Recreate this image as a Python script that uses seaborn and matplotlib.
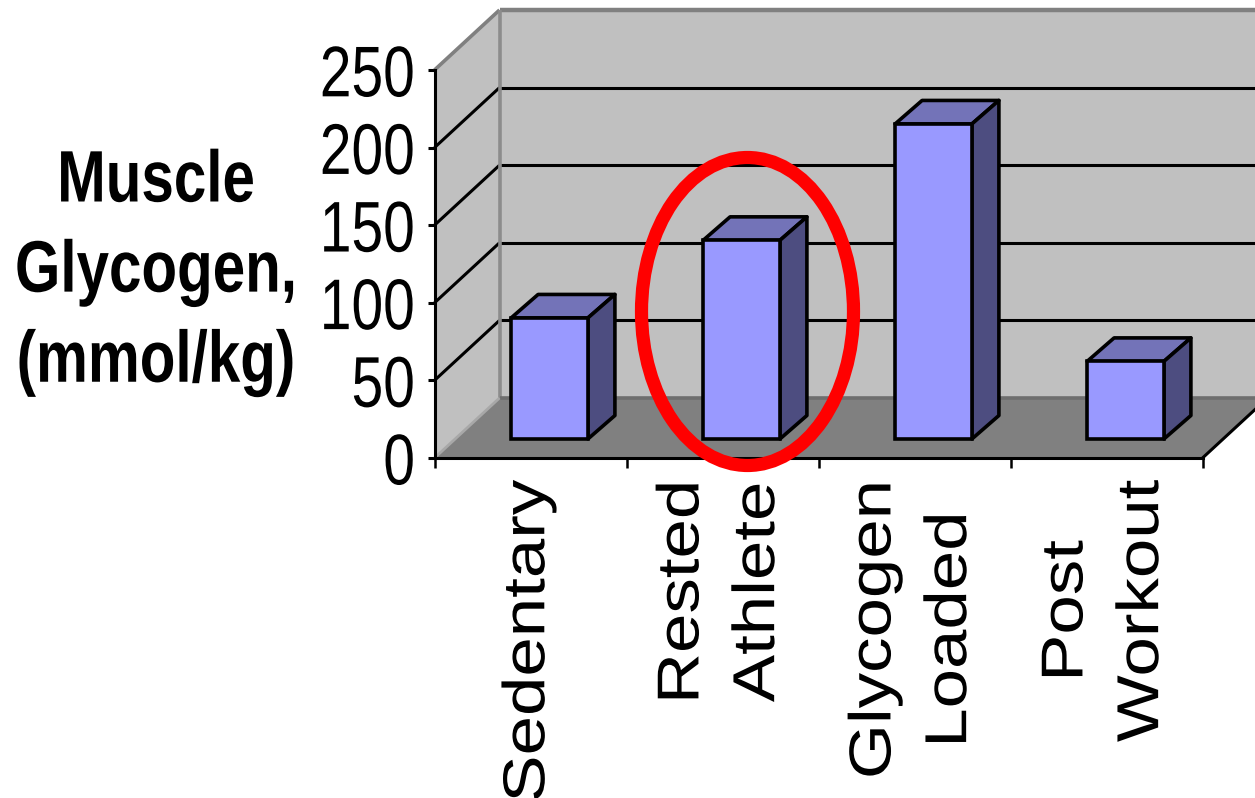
import matplotlib
matplotlib.use('Agg')
import matplotlib.pyplot as plt
import seaborn as sns
from matplotlib.patches import Polygon, Ellipse
from matplotlib.patheffects import AbstractPathEffect
from matplotlib.transforms import IdentityTransform, Affine2D

# Values
categories = ['Sedentary', 'Rested\nAthlete', 'Glycogen\nLoaded', 'Post\nWorkout']
glycogen = [78, 128, 203, 50]
y_ticks = [0, 50, 100, 150, 200, 250]
y_title = 'Muscle\nGlycogen,\n(mmol/kg)'

W, H = 1255, 798


class Squash(AbstractPathEffect):
    # the original slide was resized unevenly, so glyphs are scaled across the baseline
    def __init__(self, sy):
        self.sy = sy

    def draw_path(self, renderer, gc, tpath, affine, rgbFace=None):
        m = Affine2D().translate(0, -36).scale(1, self.sy).translate(0, 36)
        renderer.draw_path(gc, tpath, m + affine, rgbFace)


sns.set_theme(style='white')
plt.rcParams['font.family'] = ['Liberation Sans', 'DejaVu Sans']
fig = plt.figure(figsize=(W / 100, H / 100), dpi=100, facecolor='white')
ax = fig.add_axes([434.5 / W, (H - 458) / H, 768 / W, 388 / H])
ax.patch.set_visible(False)

sns.barplot(x=categories, y=glycogen, color='#9999ff', saturation=1, width=0.4,
            edgecolor='black', linewidth=2.6, ax=ax, zorder=5)
ax.set_xlim(-0.5, 3.5)
ax.set_ylim(0, 250)


def pt(x, y, dx=0, dy=0):
    # data position -> pixels, pushed back by the 3d depth
    p = ax.transData.transform((x, y))
    return (p[0] + dx, p[1] + dy)


def face(points, color, edge='none', lw=0, z=1):
    ax.add_patch(Polygon(points, closed=True, facecolor=color, edgecolor=edge, linewidth=lw,
                         transform=IdentityTransform(), clip_on=False, zorder=z, joinstyle='round'))


def line(a, b, color='black', lw=2.2, z=2):
    ax.plot([a[0], b[0]], [a[1], b[1]], color=color, lw=lw, transform=IdentityTransform(),
            clip_on=False, zorder=z, solid_capstyle='butt')


# walls and floor
back = (65, 60)
x0, x1 = -0.5, 3.5
face([pt(x0, 0), pt(x0, 250), pt(x0, 250, *back), pt(x0, 0, *back)], '#c0c0c0')
face([pt(x0, 0, *back), pt(x0, 250, *back), pt(x1, 250, *back), pt(x1, 0, *back)], '#c0c0c0')
face([pt(x0, 0), pt(x0, 0, *back), pt(x1, 0, *back), pt(x1, 0)], '#808080')

for v in y_ticks[1:-1]:
    line(pt(x0, v), pt(x0, v, *back))
    line(pt(x0, v, *back), pt(x1, v, *back))

line(pt(x0, 250), pt(x0, 250, *back), '#808080', 2.6)
line(pt(x0, 250, *back), pt(x1, 250, *back), '#808080', 3.2)
line(pt(x0, 0, *back), pt(x0, 250, *back), '#8c8c8c', 2.6)
line(pt(x0, 0, *back), pt(x1, 0, *back), '#6e6e6e', 2.6)
line(pt(x0, 0), pt(x0, 0, *back), '#a8a8a8', 2)
line(pt(x1, 0), pt(x1, 0, *back), 'black', 2.2)

# bars: seaborn gives the front face, the top and the side follow from it
shift = Affine2D().translate(19, 19)
d = (27, 23.5)
for bar in ax.containers[0]:
    bar.set_transform(ax.transData + shift)
    bar.set_clip_on(False)
    left, right, top = bar.get_x(), bar.get_x() + bar.get_width(), bar.get_height()
    fl, fr = pt(left, top, 19, 19), pt(right, top, 19, 19)
    br = pt(right, 0, 19, 19)
    face([fl, fr, (fr[0] + d[0], fr[1] + d[1]), (fl[0] + d[0], fl[1] + d[1])], '#7373b8', 'black', 2.6, 4)
    face([fr, br, (br[0] + d[0], br[1] + d[1]), (fr[0] + d[0], fr[1] + d[1])], '#4d4d80', 'black', 2.6, 4)

# highlight ring round the rested athlete
ax.add_patch(Ellipse((747.5, H - 311.5), 212, 308, facecolor='none', edgecolor='#ff0000', linewidth=9.5,
                     transform=IdentityTransform(), clip_on=False, zorder=8))

# axes
sns.despine(ax=ax)
for s in ['left', 'bottom']:
    ax.spines[s].set_color('black')
    ax.spines[s].set_linewidth(2.2)
    ax.spines[s].set_zorder(3)
ax.set_yticks(y_ticks)
ax.set_yticklabels([str(v) for v in y_ticks], fontsize=41, color='black')
ax.tick_params(axis='y', left=True, length=5, width=2.2, color='black', pad=9)
for t in ax.get_yticklabels():
    t.set_path_effects([Squash(1.26)])

ax.set_xticks(range(len(categories)))
ax.set_xticklabels(categories, rotation=90, fontsize=51, color='black',
                   linespacing=1.19, ha='center', va='top', multialignment='center')
ax.tick_params(axis='x', which='major', bottom=False, length=0, pad=15.5)
for t in ax.get_xticklabels():
    t.set_path_effects([Squash(0.835)])
ax.set_xticks([-0.5, 0.5, 1.5, 2.5, 3.5], minor=True)
ax.tick_params(axis='x', which='minor', bottom=True, length=7, width=1.8, color='black')

ax.set_xlabel('')
ax.set_ylabel(y_title, rotation=0, fontweight='bold', fontsize=42, color='black',
              ha='center', va='center', linespacing=1.86, path_effects=[Squash(1.25)])
ax.yaxis.set_label_coords(-0.3625, 0.481)

fig.savefig('out.png', dpi=100)
